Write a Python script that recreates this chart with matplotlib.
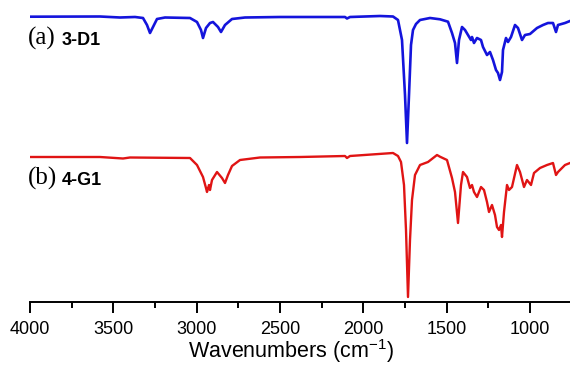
import matplotlib
matplotlib.use("Agg")
import matplotlib.pyplot as plt
from matplotlib.ticker import MultipleLocator

plt.rcParams['mathtext.fontset'] = 'custom'
plt.rcParams['mathtext.rm'] = 'Liberation Sans'

# IR spectra (wavenumber, transmittance in arbitrary units)
wn_a = [4000, 3580, 3460, 3370, 3322, 3298, 3280, 3262, 3238, 3190, 3040, 2998,
        2974, 2962, 2944, 2920, 2902, 2872, 2854, 2830, 2788, 2710, 2500, 2110,
        2098, 2080, 1900, 1822, 1792, 1768, 1750, 1738, 1726, 1714, 1702, 1684,
        1660, 1600, 1540, 1492, 1468, 1450, 1438, 1426, 1408, 1390, 1372, 1354,
        1348, 1336, 1318, 1294, 1282, 1258, 1240, 1222, 1204, 1192, 1180, 1168,
        1162, 1144, 1132, 1114, 1090, 1072, 1048, 1030, 1000, 958, 922, 892,
        862, 844, 832, 790, 760]
tr_a = [281.3, 281.5, 280.5, 281, 280, 273, 265, 271, 279, 280.5, 280, 276,
        268, 260, 270, 275, 276, 271, 266, 273, 279, 280.5, 281, 281,
        279.5, 281, 282, 281.5, 278, 258, 203, 155, 203, 253, 268, 274,
        278, 280, 278.7, 276.3, 265, 255, 235, 258, 271, 268, 263, 258,
        261, 255, 260, 258, 251, 243, 246, 238, 228, 225, 218, 226,
        248, 260, 256, 261, 273, 270, 258, 263, 264, 270, 273, 275,
        275, 266, 273, 275, 277]

wn_b = [4000, 3580, 3442, 3400, 3040, 2998, 2962, 2944, 2938, 2926, 2920, 2908,
        2878, 2848, 2830, 2812, 2788, 2740, 2620, 2380, 2110, 2098, 2080, 1822,
        1792, 1774, 1756, 1744, 1732, 1720, 1708, 1690, 1660, 1612, 1558, 1540,
        1498, 1468, 1450, 1432, 1414, 1402, 1378, 1360, 1348, 1336, 1318, 1294,
        1276, 1258, 1246, 1228, 1210, 1198, 1186, 1174, 1168, 1156, 1138, 1126,
        1108, 1078, 1060, 1036, 1018, 994, 976, 940, 898, 862, 844, 832,
        790, 760]
tr_b = [141, 141, 139.5, 140.5, 140, 133, 121, 110, 106, 113, 108, 118,
        126, 120, 115, 123, 132, 138, 140.5, 141, 142, 140, 142, 145,
        142, 136, 113, 68, 1, 58, 98, 123, 133, 136, 143, 141.3,
        138, 120, 106, 75, 113, 126, 121, 110, 113, 106, 101, 111,
        108, 96, 86, 93, 83, 71, 68, 73, 61, 86, 113, 108,
        111, 133, 126, 111, 118, 113, 125, 130, 133, 135, 123, 126,
        133, 135]

fig = plt.figure(figsize=(5.7, 3.67), dpi=100)
ax = fig.add_axes([30 / 570, 65.3 / 367, 540 / 570, 301.7 / 367])

ax.plot(wn_a, tr_a, color='#1414dc', lw=1.9, solid_joinstyle='round')
ax.plot(wn_b, tr_b, color='#e01414', lw=1.7, solid_joinstyle='round')

ax.set_xlim(4000, 760)
ax.set_ylim(-3.7, 298)

for s in ['top', 'right', 'left']:
    ax.spines[s].set_visible(False)
ax.spines['bottom'].set_linewidth(1.4)
ax.set_yticks([])

ax.xaxis.set_major_locator(MultipleLocator(500))
ax.xaxis.set_minor_locator(MultipleLocator(250))
ax.tick_params(axis='x', which='major', direction='out', length=8, width=1.4,
               pad=6, labelsize=13)
ax.tick_params(axis='x', which='minor', direction='out', length=4, width=1.4)
for lab in ax.get_xticklabels():
    lab.set_family('Liberation Sans')

ax.set_xlabel('Wavenumbers (cm$^{\\mathrm{-1}}$)', fontsize=15.5,
              family='Liberation Sans')
ax.xaxis.set_label_coords(0.483, -0.117)

# sample labels
ax.text(4012, 253, '(a)', family='Liberation Serif', fontsize=18, va='baseline')
ax.text(3808, 253, '3-D1', family='Liberation Sans', fontweight='bold',
        fontsize=13, va='baseline')
ax.text(4012, 113, '(b)', family='Liberation Serif', fontsize=18, va='baseline')
ax.text(3808, 113, '4-G1', family='Liberation Sans', fontweight='bold',
        fontsize=13, va='baseline')

fig.savefig('out.png', dpi=100)
